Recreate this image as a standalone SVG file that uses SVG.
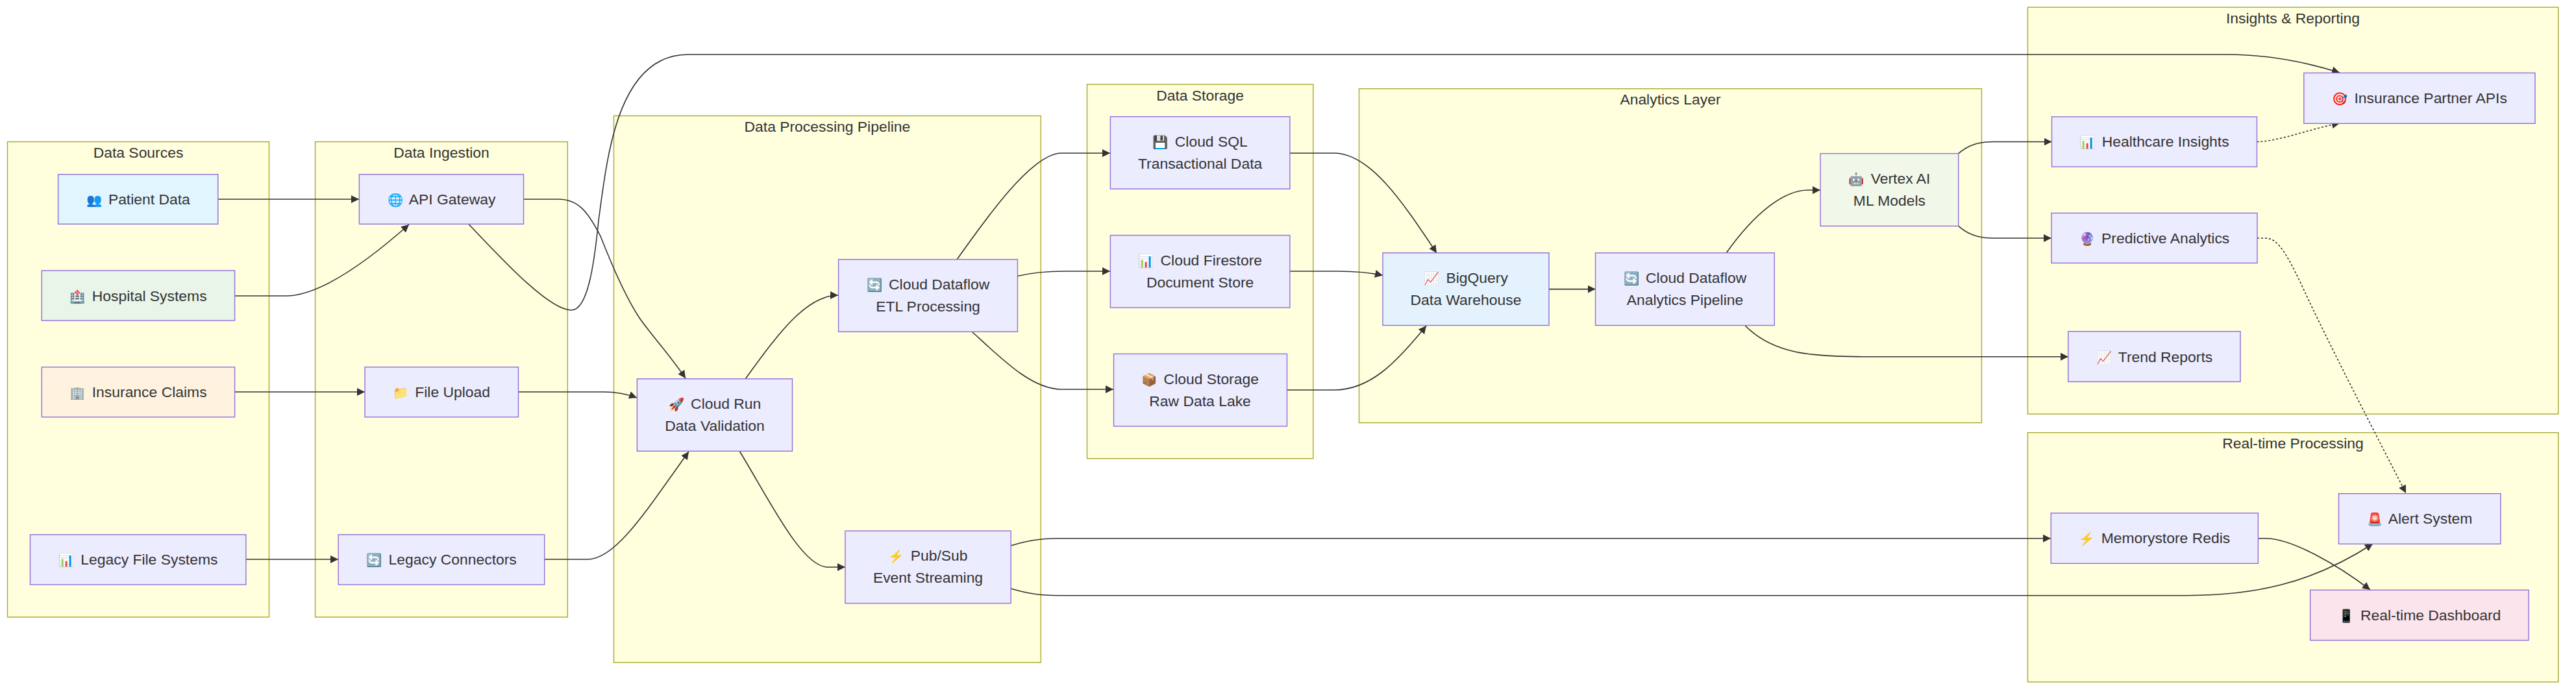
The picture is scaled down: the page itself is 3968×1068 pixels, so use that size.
<svg xmlns="http://www.w3.org/2000/svg" width="3968" height="1068" viewBox="0 0 3968 1068">
<style>
text{font-family:"Liberation Sans",Arial,"Noto Sans",sans-serif;font-size:22.9px;fill:#333;text-anchor:middle}
.e{font-size:19.5px}
.cluster rect{fill:#ffffde;stroke:#aaaa33;stroke-width:1.43}
.node rect{fill:#ececff;stroke:#9370db;stroke-width:1.43}
.edge{fill:none;stroke:#333;stroke-width:1.6;marker-end:url(#arrow)}
.dot{stroke-dasharray:3 3}
</style>
<defs><marker id="arrow" viewBox="0 0 10 10" refX="10" refY="5" markerUnits="userSpaceOnUse" markerWidth="12" markerHeight="12" orient="auto"><path d="M0 0L10 5L0 10z" fill="#333"/></marker></defs>
<rect width="3968" height="1068" fill="#fff"/>
<g id="clusters">
<g class="cluster" id="c-sources"><rect x="11.5" y="218.5" width="403" height="732.5"/><text x="213" y="243">Data Sources</text></g>
<g class="cluster" id="c-ingestion"><rect x="485.6" y="218.5" width="388.7" height="732.5"/><text x="680" y="243">Data Ingestion</text></g>
<g class="cluster" id="c-processing"><rect x="945.5" y="178.5" width="657.8" height="842.5"/><text x="1274.4" y="203">Data Processing Pipeline</text></g>
<g class="cluster" id="c-storage"><rect x="1674.5" y="130" width="348.3" height="576.7"/><text x="1848.6" y="154.5">Data Storage</text></g>
<g class="cluster" id="c-analytics"><rect x="2093.5" y="136.7" width="958.9" height="514.8"/><text x="2573" y="161">Analytics Layer</text></g>
<g class="cluster" id="c-insights"><rect x="3123.5" y="11.2" width="817.2" height="626.8"/><text x="3532" y="36">Insights &amp; Reporting</text></g>
<g class="cluster" id="c-realtime"><rect x="3123.5" y="666.7" width="817.2" height="384.3"/><text x="3532" y="691">Real-time Processing</text></g>
</g>
<g id="connectors">
<path class="edge" d="M336 307L553 307"/>
<path class="edge" d="M362 456L440 456C490 456 560 408 630 346"/>
<path class="edge" d="M806.5 307L860 307C890 307 905 325 925 364C945 415 965 460 985 490C1000 512 1030 545 1056 583"/>
<path class="edge" d="M721.6 345C770 396 845 478 880 478C905 478 915 410 922 340C935 245 950 84 1060 84L3430 84C3490 84 3550 95 3604 112"/>
<path class="edge" d="M362 604L562 604"/>
<path class="edge" d="M379 862L521 862"/>
<path class="edge" d="M798.5 604L930 604C950 604 965 607 981 613"/>
<path class="edge" d="M838.7 862L905 862C950 862 1000 780 1061 696"/>
<path class="edge" d="M1148 584C1195 520 1240 455 1291 455"/>
<path class="edge" d="M1139 695C1185 770 1235 874 1275 874L1302 874"/>
<path class="edge" d="M1474 400C1520 335 1590 236 1635 236L1710 236"/>
<path class="edge" d="M1567.4 425.5C1590 420 1610 418 1640 418L1710 418"/>
<path class="edge" d="M1497 511C1545 555 1590 600 1635 600L1715 600"/>
<path class="edge" d="M1987 236L2055 236C2110 236 2160 310 2213 390"/>
<path class="edge" d="M1987 418L2060 418C2090 418 2110 420 2130 424.5"/>
<path class="edge" d="M1982.5 601L2055 601C2110 601 2150 560 2197 502"/>
<path class="edge" d="M2386 445.6L2457.6 445.6"/>
<path class="edge" d="M2659 390C2705 325 2750 293 2785 293L2804 293"/>
<path class="edge" d="M2688 501.5C2730 545 2790 549.7 2870 549.7L3186 549.7"/>
<path class="edge" d="M3016.7 236.6C3030 225 3045 218.5 3070 218.5L3160.5 218.5"/>
<path class="edge" d="M3016.7 348.4C3030 360 3045 367 3070 367L3160 367"/>
<path class="edge dot" d="M3476.5 218.5C3510 218 3560 198 3604 190"/>
<path class="edge dot" d="M3477 367L3490 367C3510 367 3525 395 3555 460C3600 555 3660 670 3706 760"/>
<path class="edge" d="M1557 841C1580 834 1600 829.7 1630 829.7L3159 829.7"/>
<path class="edge" d="M1557 907C1580 914 1600 917.7 1630 917.7L3370 917.7C3470 917.7 3560 900 3655 838"/>
<path class="edge" d="M3478.4 829.7L3490 829.7C3530 829.7 3600 870 3651 909"/>
</g>
<g id="nodes">
<g class="node" id="patient"><rect x="89.6" y="268.7" width="246.2" height="76.6" style="fill:#e1f5fe"/><text x="212.7" y="315"><tspan class="e">👥</tspan><tspan dx="4"> Patient Data</tspan></text></g>
<g class="node" id="hospital"><rect x="64.3" y="417" width="297.3" height="77" style="fill:#e8f5e8"/><text x="213" y="464"><tspan class="e">🏥</tspan><tspan dx="4"> Hospital Systems</tspan></text></g>
<g class="node" id="insurance"><rect x="64.3" y="565.7" width="297.3" height="77" style="fill:#fff3e0"/><text x="213" y="612"><tspan class="e">🏢</tspan><tspan dx="4"> Insurance Claims</tspan></text></g>
<g class="node" id="legacyfs"><rect x="46.5" y="824" width="332.4" height="77"/><text x="212.7" y="870"><tspan class="e">📊</tspan><tspan dx="4"> Legacy File Systems</tspan></text></g>
<g class="node" id="api"><rect x="553.4" y="268.7" width="253.1" height="76.6"/><text x="680" y="315"><tspan class="e">🌐</tspan><tspan dx="4"> API Gateway</tspan></text></g>
<g class="node" id="upload"><rect x="562" y="565.7" width="236.5" height="77"/><text x="680" y="612"><tspan class="e">📁</tspan><tspan dx="4"> File Upload</tspan></text></g>
<g class="node" id="connectors-n"><rect x="521.2" y="824" width="317.5" height="77"/><text x="680" y="870"><tspan class="e">🔄</tspan><tspan dx="4"> Legacy Connectors</tspan></text></g>
<g class="node" id="run"><rect x="981.4" y="583.8" width="239.1" height="111.5"/><text x="1101" y="630"><tspan class="e">🚀</tspan><tspan dx="4"> Cloud Run</tspan></text><text x="1101" y="664">Data Validation</text></g>
<g class="node" id="etl"><rect x="1291.6" y="399.8" width="275.8" height="111.5"/><text x="1429.5" y="446"><tspan class="e">🔄</tspan><tspan dx="4"> Cloud Dataflow</tspan></text><text x="1429.5" y="480">ETL Processing</text></g>
<g class="node" id="pubsub"><rect x="1301.9" y="818.2" width="255.2" height="111.5"/><text x="1429.5" y="864"><tspan class="e">⚡</tspan><tspan dx="4"> Pub/Sub</tspan></text><text x="1429.5" y="898">Event Streaming</text></g>
<g class="node" id="sql"><rect x="1710.4" y="179.7" width="276.5" height="111.5"/><text x="1848.6" y="226"><tspan class="e">💾</tspan><tspan dx="4"> Cloud SQL</tspan></text><text x="1848.6" y="260">Transactional Data</text></g>
<g class="node" id="firestore"><rect x="1710.4" y="362.6" width="276.5" height="111.5"/><text x="1848.6" y="409"><tspan class="e">📊</tspan><tspan dx="4"> Cloud Firestore</tspan></text><text x="1848.6" y="443">Document Store</text></g>
<g class="node" id="storage"><rect x="1715.5" y="545.4" width="267" height="111.5"/><text x="1848.6" y="592"><tspan class="e">📦</tspan><tspan dx="4"> Cloud Storage</tspan></text><text x="1848.6" y="626">Raw Data Lake</text></g>
<g class="node" id="bigquery"><rect x="2130" y="389.7" width="256" height="111.8" style="fill:#e3f2fd"/><text x="2258" y="436"><tspan class="e">📈</tspan><tspan dx="4"> BigQuery</tspan></text><text x="2258" y="470">Data Warehouse</text></g>
<g class="node" id="dataflow"><rect x="2457.6" y="389.7" width="275.7" height="111.8"/><text x="2595.5" y="436"><tspan class="e">🔄</tspan><tspan dx="4"> Cloud Dataflow</tspan></text><text x="2595.5" y="470">Analytics Pipeline</text></g>
<g class="node" id="vertex"><rect x="2804.1" y="236.6" width="212.6" height="111.8" style="fill:#f1f8e9"/><text x="2910.4" y="283"><tspan class="e">🤖</tspan><tspan dx="4"> Vertex AI</tspan></text><text x="2910.4" y="317">ML Models</text></g>
<g class="node" id="partner"><rect x="3548.8" y="112.4" width="356.2" height="77.9"/><text x="3727" y="159"><tspan class="e">🎯</tspan><tspan dx="4"> Insurance Partner APIs</tspan></text></g>
<g class="node" id="healthcare"><rect x="3160.5" y="180" width="316" height="77"/><text x="3318.5" y="226"><tspan class="e">📊</tspan><tspan dx="4"> Healthcare Insights</tspan></text></g>
<g class="node" id="predictive"><rect x="3160" y="328.4" width="317" height="77"/><text x="3318.5" y="375"><tspan class="e">🔮</tspan><tspan dx="4"> Predictive Analytics</tspan></text></g>
<g class="node" id="trend"><rect x="3185.8" y="510.8" width="265.2" height="77.5"/><text x="3318.5" y="558"><tspan class="e">📈</tspan><tspan dx="4"> Trend Reports</tspan></text></g>
<g class="node" id="memorystore"><rect x="3159.3" y="790.7" width="319.1" height="77.6"/><text x="3318.8" y="837"><tspan class="e">⚡</tspan><tspan dx="4"> Memorystore Redis</tspan></text></g>
<g class="node" id="alert"><rect x="3602.5" y="760.7" width="249.4" height="77.6"/><text x="3727" y="807"><tspan class="e">🚨</tspan><tspan dx="4"> Alert System</tspan></text></g>
<g class="node" id="dashboard"><rect x="3558.6" y="909.3" width="336.4" height="77.4" style="fill:#fce4ec"/><text x="3727" y="956"><tspan class="e">📱</tspan><tspan dx="4"> Real-time Dashboard</tspan></text></g>
</g>
</svg>
